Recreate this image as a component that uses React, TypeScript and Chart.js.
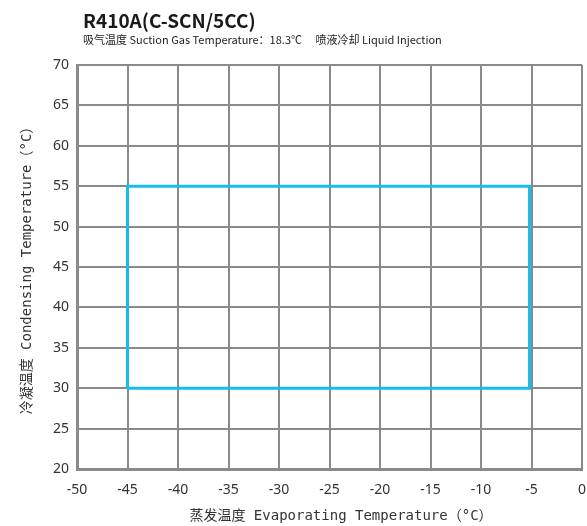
import React, { useEffect, useRef } from "react";
import { Chart, registerables } from "chart.js";

Chart.register(...registerables);

const titleText = "R410A(C-SCN/5CC)";
const subtitleText = "吸气温度 Suction Gas Temperature：18.3℃　 喷液冷却 Liquid Injection";
const xAxisTitle = "蒸发温度 Evaporating Temperature（°C）";
const yAxisTitle = "冷凝温度 Condensing Temperature（°C）";
const envelopeEvap = [-45, -45, -5.2, -5.2, -45];
const envelopeCond = [30, 55, 55, 30, 30];
const xMin = -50, xMax = 0, xStep = 5;
const yMin = 20, yMax = 70, yStep = 5;

const PLOT_LEFT = 77, PLOT_TOP = 65, PLOT_RIGHT = 582, PLOT_BOTTOM = 469;
const W = 587, H = 526;

export default function App() {
  const ref = useRef<HTMLCanvasElement>(null);
  useEffect(() => {
    const canvas = ref.current!;
    const headerPlugin = {
      id: "header",
      afterDraw(chart: any) {
        const ctx = chart.ctx;
        ctx.save();
        ctx.fillStyle = "#1a1a1a";
        ctx.textAlign = "left";
        ctx.textBaseline = "alphabetic";
        ctx.font = "bold 19px 'Noto Sans CJK SC', 'Noto Sans'";
        ctx.fillText(titleText, 83, 28);
        ctx.font = "11px 'Noto Sans CJK SC', 'Noto Sans'";
        ctx.fillStyle = "#222";
        ctx.fillText(subtitleText, 83, 44);
        ctx.fillStyle = "#333";
        ctx.textAlign = "center";
        ctx.textBaseline = "middle";
        ctx.font = "14px 'DejaVu Sans Mono', 'Noto Sans CJK SC'";
        ctx.fillText(xAxisTitle, 341, 516);
        ctx.restore();
      },
    };
    const chart = new Chart(canvas, {
      type: "line",
      data: {
        datasets: [
          {
            data: envelopeEvap.map((x, i) => ({ x, y: envelopeCond[i] })),
            borderColor: "#14bff0",
            borderWidth: 3,
            pointRadius: 0,
            fill: false,
            tension: 0,
          },
        ],
      },
      options: {
        animation: false,
        responsive: false,
        layout: { padding: { top: PLOT_TOP, right: W - PLOT_RIGHT, left: 0, bottom: 0 } },
        plugins: { legend: { display: false }, tooltip: { enabled: false } },
        scales: {
          x: {
            type: "linear",
            min: xMin,
            max: xMax,
            ticks: { stepSize: xStep, color: "#333", font: { family: "'Noto Sans'", size: 14 }, padding: 13 },
            grid: { color: "#8a8a8a", lineWidth: 2, drawTicks: false },
            border: { color: "#8a8a8a", width: 3 },
            title: { display: false },
            afterFit: (s: any) => {
              s.height = H - PLOT_BOTTOM;
              s.paddingLeft = 0;
              s.paddingRight = 0;
            },
          },
          y: {
            type: "linear",
            min: yMin,
            max: yMax,
            ticks: { stepSize: yStep, color: "#333", font: { family: "'Noto Sans'", size: 14 }, padding: 8 },
            grid: { color: "#8a8a8a", lineWidth: 2, drawTicks: false },
            border: { color: "#8a8a8a", width: 3 },
            title: {
              display: true,
              text: yAxisTitle,
              color: "#333",
              font: { family: "'DejaVu Sans Mono', 'Noto Sans CJK SC'", size: 14 },
              padding: { top: 19, bottom: 8 },
            },
            afterFit: (s: any) => {
              s.width = PLOT_LEFT;
              s.paddingTop = 0;
              s.paddingBottom = 0;
            },
          },
        },
      },
      plugins: [headerPlugin],
    } as any);
    return () => chart.destroy();
  }, []);
  return (
    <div style={{ position: "fixed", left: 0, top: 0, width: W, height: H, background: "#fff" }}>
      <canvas ref={ref} width={W} height={H} style={{ width: W, height: H, display: "block" }} />
    </div>
  );
}
